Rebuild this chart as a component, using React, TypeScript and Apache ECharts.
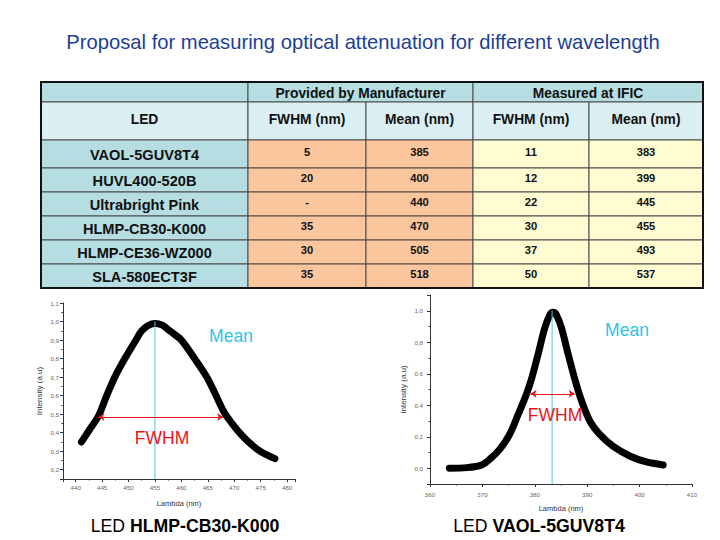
import React, { useEffect, useRef } from 'react';
import * as echarts from 'echarts';

const FONT = '"Liberation Sans", Arial, Helvetica, sans-serif';

const titleText = 'Proposal for measuring optical attenuation for different wavelength';

// Table data
const groupHeaders = ['Provided by Manufacturer', 'Measured at IFIC'];
const subHeaders = ['LED', 'FWHM (nm)', 'Mean (nm)', 'FWHM (nm)', 'Mean (nm)'];
const leds = ['VAOL-5GUV8T4', 'HUVL400-520B', 'Ultrabright Pink', 'HLMP-CB30-K000', 'HLMP-CE36-WZ000', 'SLA-580ECT3F'];
const mfrFwhm = ['5', '20', '-', '35', '30', '35'];
const mfrMean = ['385', '400', '440', '470', '505', '518'];
const ificFwhm = ['11', '12', '22', '30', '37', '50'];
const ificMean = ['383', '399', '445', '455', '493', '537'];

// Left spectrum: HLMP-CB30-K000
const cbLambda = [441.1, 442.7, 444.3, 445.8, 447.4, 449.3, 451.4, 452.5, 453.8, 455.0, 456.4, 457.8, 460.0, 462.5, 464.8, 466.4, 467.9, 469.3, 470.7, 472.7, 474.9, 477.7];
const cbIntensity = [0.35, 0.42, 0.49, 0.595, 0.70, 0.80, 0.90, 0.95, 0.98, 0.99, 0.98, 0.95, 0.90, 0.80, 0.70, 0.61, 0.52, 0.46, 0.41, 0.35, 0.30, 0.26];
const cbMean = 455.0;
const cbFwhmEnds = [444.3, 467.9];
const cbHalf = 0.485;

// Right spectrum: VAOL-5GUV8T4
const vaLambda = [363.7, 367, 369.8, 371.4, 373.3, 375.2, 376.8, 378.4, 379.4, 380.6, 381.9, 382.9, 383.5, 384.1, 385.1, 386.4, 387.6, 388.9, 390.5, 392.4, 394.9, 398.1, 401.3, 404.5];
const vaIntensity = [0.0, 0.004, 0.02, 0.057, 0.12, 0.215, 0.34, 0.47, 0.57, 0.72, 0.89, 0.975, 0.99, 0.975, 0.89, 0.72, 0.57, 0.43, 0.30, 0.215, 0.14, 0.078, 0.04, 0.021];
const vaMean = 383.3;
const vaFwhmEnds = [379.2, 387.6];
const vaHalf = 0.473;

const captionLeft = ['LED ', 'HLMP-CB30-K000'];
const captionRight = ['LED ', 'VAOL-5GUV8T4'];

// Table layout
const colX = [41, 248, 366, 473, 589, 703];
const rowY = [82, 102, 140, 168, 192, 216, 240, 264, 288];
const C_TEAL = '#b6dde2';
const C_LIGHT = '#dbeef2';
const C_PEACH = '#fbc69e';
const C_YELLOW = '#fefcd0';

function txt(text: string, x: number, y: number, size: number, bold: boolean, fill = '#111') {
  return {
    type: 'text',
    x,
    y,
    z: 20,
    style: {
      text,
      fill,
      fontSize: size,
      fontWeight: bold ? 'bold' : 'normal',
      fontFamily: FONT,
      align: 'center',
      verticalAlign: 'middle',
      textAlign: 'center',
      textVerticalAlign: 'middle',
    },
  };
}

function cell(x0: number, x1: number, y0: number, y1: number, fill: string) {
  return {
    type: 'rect',
    z: 10,
    shape: { x: x0, y: y0, width: x1 - x0, height: y1 - y0 },
    style: { fill, stroke: '#4a4a4a', lineWidth: 1 },
  };
}

function buildTable() {
  const els: any[] = [];
  els.push(cell(colX[0], colX[1], rowY[0], rowY[1], C_TEAL));
  els.push(cell(colX[1], colX[3], rowY[0], rowY[1], C_TEAL));
  els.push(cell(colX[3], colX[5], rowY[0], rowY[1], C_TEAL));
  els.push(txt(groupHeaders[0], (colX[1] + colX[3]) / 2, (rowY[0] + rowY[1]) / 2 + 1, 13.8, true));
  els.push(txt(groupHeaders[1], (colX[3] + colX[5]) / 2, (rowY[0] + rowY[1]) / 2 + 1, 13.8, true));
  for (let c = 0; c < 5; c++) {
    els.push(cell(colX[c], colX[c + 1], rowY[1], rowY[2], C_LIGHT));
    els.push(txt(subHeaders[c], (colX[c] + colX[c + 1]) / 2, (rowY[1] + rowY[2]) / 2 - 2, 13.8, true));
  }
  for (let r = 0; r < leds.length; r++) {
    const y0 = rowY[r + 2];
    const y1 = rowY[r + 3];
    const cy = (y0 + y1) / 2;
    const vals = [mfrFwhm[r], mfrMean[r], ificFwhm[r], ificMean[r]];
    const fills = [C_PEACH, C_PEACH, C_YELLOW, C_YELLOW];
    els.push(cell(colX[0], colX[1], y0, y1, C_TEAL));
    els.push(txt(leds[r], (colX[0] + colX[1]) / 2, cy + 1, 14.6, true));
    for (let c = 0; c < 4; c++) {
      els.push(cell(colX[c + 1], colX[c + 2], y0, y1, fills[c]));
      els.push(txt(vals[c], (colX[c + 1] + colX[c + 2]) / 2, cy - 2, 11.2, true));
    }
  }
  els.push({
    type: 'rect',
    z: 15,
    shape: { x: colX[0], y: rowY[0], width: colX[5] - colX[0], height: rowY[8] - rowY[0] },
    style: { fill: 'none', stroke: '#111', lineWidth: 2 },
  });
  return els;
}

function caption(parts: string[], x: number, y: number) {
  return {
    type: 'text',
    x,
    y,
    style: {
      text: `{a|${parts[0]}}{b|${parts[1]}}`,
      fill: '#000',
      fontSize: 17.7,
      fontFamily: FONT,
      align: 'center',
      verticalAlign: 'middle',
      textAlign: 'center',
      textVerticalAlign: 'middle',
      rich: {
        a: { fontSize: 17.7, fontFamily: FONT, fill: '#000', fontWeight: 'normal' },
        b: { fontSize: 17.7, fontFamily: FONT, fill: '#000', fontWeight: 'bold' },
      },
    },
  };
}

const isMult = (v: number, step: number) => Math.abs(v / step - Math.round(v / step)) < 1e-6;

function axisBase(labelMargin: number, step: number, decimals: number, nameGap: number, name: string, nameSize: number) {
  return {
    type: 'value',
    name,
    nameLocation: 'middle',
    nameGap,
    nameTextStyle: { fontSize: nameSize, color: '#333', fontFamily: FONT },
    minInterval: step,
    maxInterval: step,
    axisLine: { show: true, onZero: false, lineStyle: { color: '#333', width: 1 } },
    axisTick: { show: true, length: 3, lineStyle: { color: '#333', width: 1 } },
    minorTick: { show: true, splitNumber: 2, length: 1.5, lineStyle: { color: '#333', width: 1 } },
    splitLine: { show: false },
    minorSplitLine: { show: false },
    axisLabel: {
      fontSize: 6.2,
      color: '#666',
      fontFamily: FONT,
      margin: labelMargin,
      formatter: (v: number) => (isMult(v, step) ? (decimals ? v.toFixed(decimals).replace('.', ',') : String(Math.round(v))) : ''),
    },
  };
}

const option: any = {
  animation: false,
  backgroundColor: '#ffffff',
  grid: [
    { left: 63, top: 303, width: 232, height: 176, containLabel: false },
    { left: 430, top: 295, width: 262, height: 189, containLabel: false },
  ],
  xAxis: [
    { ...axisBase(5, 5, 0, 20, 'Lambda (nm)', 7.5), gridIndex: 0, min: 437.6, max: 481.5 },
    { ...axisBase(7, 10, 0, 20, 'Lambda (nm)', 7.5), gridIndex: 1, min: 360, max: 410 },
  ],
  yAxis: [
    { ...axisBase(4, 0.1, 1, 20, 'Intensity (a.u)', 8), gridIndex: 0, min: 0.15, max: 1.1 },
    { ...axisBase(7, 0.2, 1, 23, 'Intensity (a.u)', 8), gridIndex: 1, min: -0.1, max: 1.1 },
  ],
  series: [
    {
      type: 'line',
      xAxisIndex: 0,
      yAxisIndex: 0,
      data: cbLambda.map((x, i) => [x, cbIntensity[i]]),
      symbol: 'none',
      smooth: 0.3,
      lineStyle: { color: '#000', width: 7, cap: 'round', join: 'round' },
      z: 2,
      markLine: {
        silent: true,
        symbol: ['arrow', 'arrow'],
        symbolSize: 6,
        label: { show: false },
        lineStyle: { color: '#e8141c', width: 1, type: 'solid' },
        data: [[{ coord: [cbFwhmEnds[0], cbHalf] }, { coord: [cbFwhmEnds[1], cbHalf] }]],
      },
    },
    {
      type: 'line',
      xAxisIndex: 0,
      yAxisIndex: 0,
      data: [[cbMean, 0.15], [cbMean, 1.0]],
      symbol: 'none',
      lineStyle: { color: '#4cc8e4', width: 1 },
      z: 3,
    },
    {
      type: 'line',
      xAxisIndex: 1,
      yAxisIndex: 1,
      data: vaLambda.map((x, i) => [x, vaIntensity[i]]),
      symbol: 'none',
      smooth: 0.3,
      lineStyle: { color: '#000', width: 7, cap: 'round', join: 'round' },
      z: 2,
      markLine: {
        silent: true,
        symbol: ['arrow', 'arrow'],
        symbolSize: 6,
        label: { show: false },
        lineStyle: { color: '#e8141c', width: 1, type: 'solid' },
        data: [[{ coord: [vaFwhmEnds[0], vaHalf] }, { coord: [vaFwhmEnds[1], vaHalf] }]],
      },
    },
    {
      type: 'line',
      xAxisIndex: 1,
      yAxisIndex: 1,
      data: [[vaMean, -0.1], [vaMean, 1.0]],
      symbol: 'none',
      lineStyle: { color: '#4cc8e4', width: 1 },
      z: 3,
    },
  ],
  graphic: [
    {
      type: 'text',
      x: 363,
      y: 42,
      style: {
        text: titleText,
        fill: '#1c3f94',
        fontSize: 20.2,
        fontFamily: FONT,
        align: 'center',
        verticalAlign: 'middle',
        textAlign: 'center',
        textVerticalAlign: 'middle',
      },
    },
    ...buildTable(),
    txt('Mean', 231, 336, 17.5, false, '#2ec4ea'),
    txt('FWHM', 162, 438, 17.5, false, '#e8141c'),
    txt('Mean', 627, 330, 17.5, false, '#2ec4ea'),
    txt('FWHM', 555, 415, 17.5, false, '#e8141c'),
    caption(captionLeft, 185, 526),
    caption(captionRight, 539, 526),
  ],
};

export default function App() {
  const ref = useRef<HTMLDivElement>(null);
  useEffect(() => {
    if (!ref.current) return;
    const chart = echarts.init(ref.current, null, { renderer: 'svg' });
    chart.setOption(option);
    return () => chart.dispose();
  }, []);
  return (
    <div
      ref={ref}
      style={{ position: 'fixed', left: 0, top: 0, width: 720, height: 540, background: '#fff' }}
    />
  );
}
